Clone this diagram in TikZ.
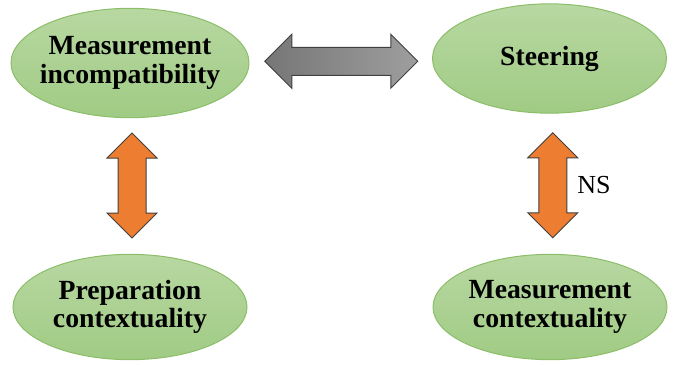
\documentclass[tikz,border=0pt]{standalone}
\usepackage{fontspec}
\setmainfont{Liberation Serif}
\usetikzlibrary{shapes.geometric,shapes.arrows,calc}

\definecolor{bubbletop}{RGB}{184,216,162}
\definecolor{bubblebot}{RGB}{160,203,132}
\definecolor{bubbleline}{RGB}{140,190,105}
\definecolor{arroworange}{RGB}{237,125,49}
\definecolor{arrowline}{RGB}{64,64,64}
\definecolor{greyleft}{RGB}{118,118,118}
\definecolor{greyright}{RGB}{158,158,158}

\tikzset{every picture/.style={line width=0.75pt}}
\tikzset{
  bubble/.style={ellipse, draw=bubbleline, top color=bubbletop, bottom color=bubblebot,
    minimum width=175.5pt, minimum height=82pt, inner xsep=-4.5pt, inner ysep=0.75pt, align=center,
    font=\bfseries\fontsize{20.8}{21.5}\selectfont},
  fatarrow/.style={double arrow, draw=arrowline, line width=0.75pt, inner xsep=0pt, inner ysep=10.125pt,
    double arrow head extend=8.25pt, minimum width=0pt, minimum height=78.75pt},
}

\begin{document}
\begin{tikzpicture}[x=0.75pt,y=0.75pt,yscale=-1,xscale=1]
        \path (0,0) rectangle (674,365); %set diagram size

        % Ellipses
        \node [bubble] (incomp) at (130,63) {Measurement\\incompatibility};
        \node [bubble] (steer) at (549.5,58.5) {Steering};
        \node [bubble, minimum height=79pt] (prepctx) at (130,307) {Preparation\\contextuality};
        \node [bubble, minimum height=79pt] (measctx) at (550,307) {Measurement\\contextuality};

        % Grey double arrow
        \node [fatarrow, left color=greyleft, right color=greyright, double arrow head extend=9.75pt,
          minimum height=114.75pt] (link) at ($(incomp)!0.5!(steer)+(1.5,0.5)$) {};
        % Orange double arrows
        \node [fatarrow, fill=arroworange, rotate=90] (preplink) at ($(incomp)!0.5!(prepctx)+(2,0.5)$) {};
        \node [fatarrow, fill=arroworange, rotate=90] (measlink) at ($(steer)!0.5!(measctx)+(3,2.5)$) {};

        % Text Node
        \node [font=\fontsize{19.5}{22}\selectfont] (ns) at (594,185) {NS};
\end{tikzpicture}
\end{document}
